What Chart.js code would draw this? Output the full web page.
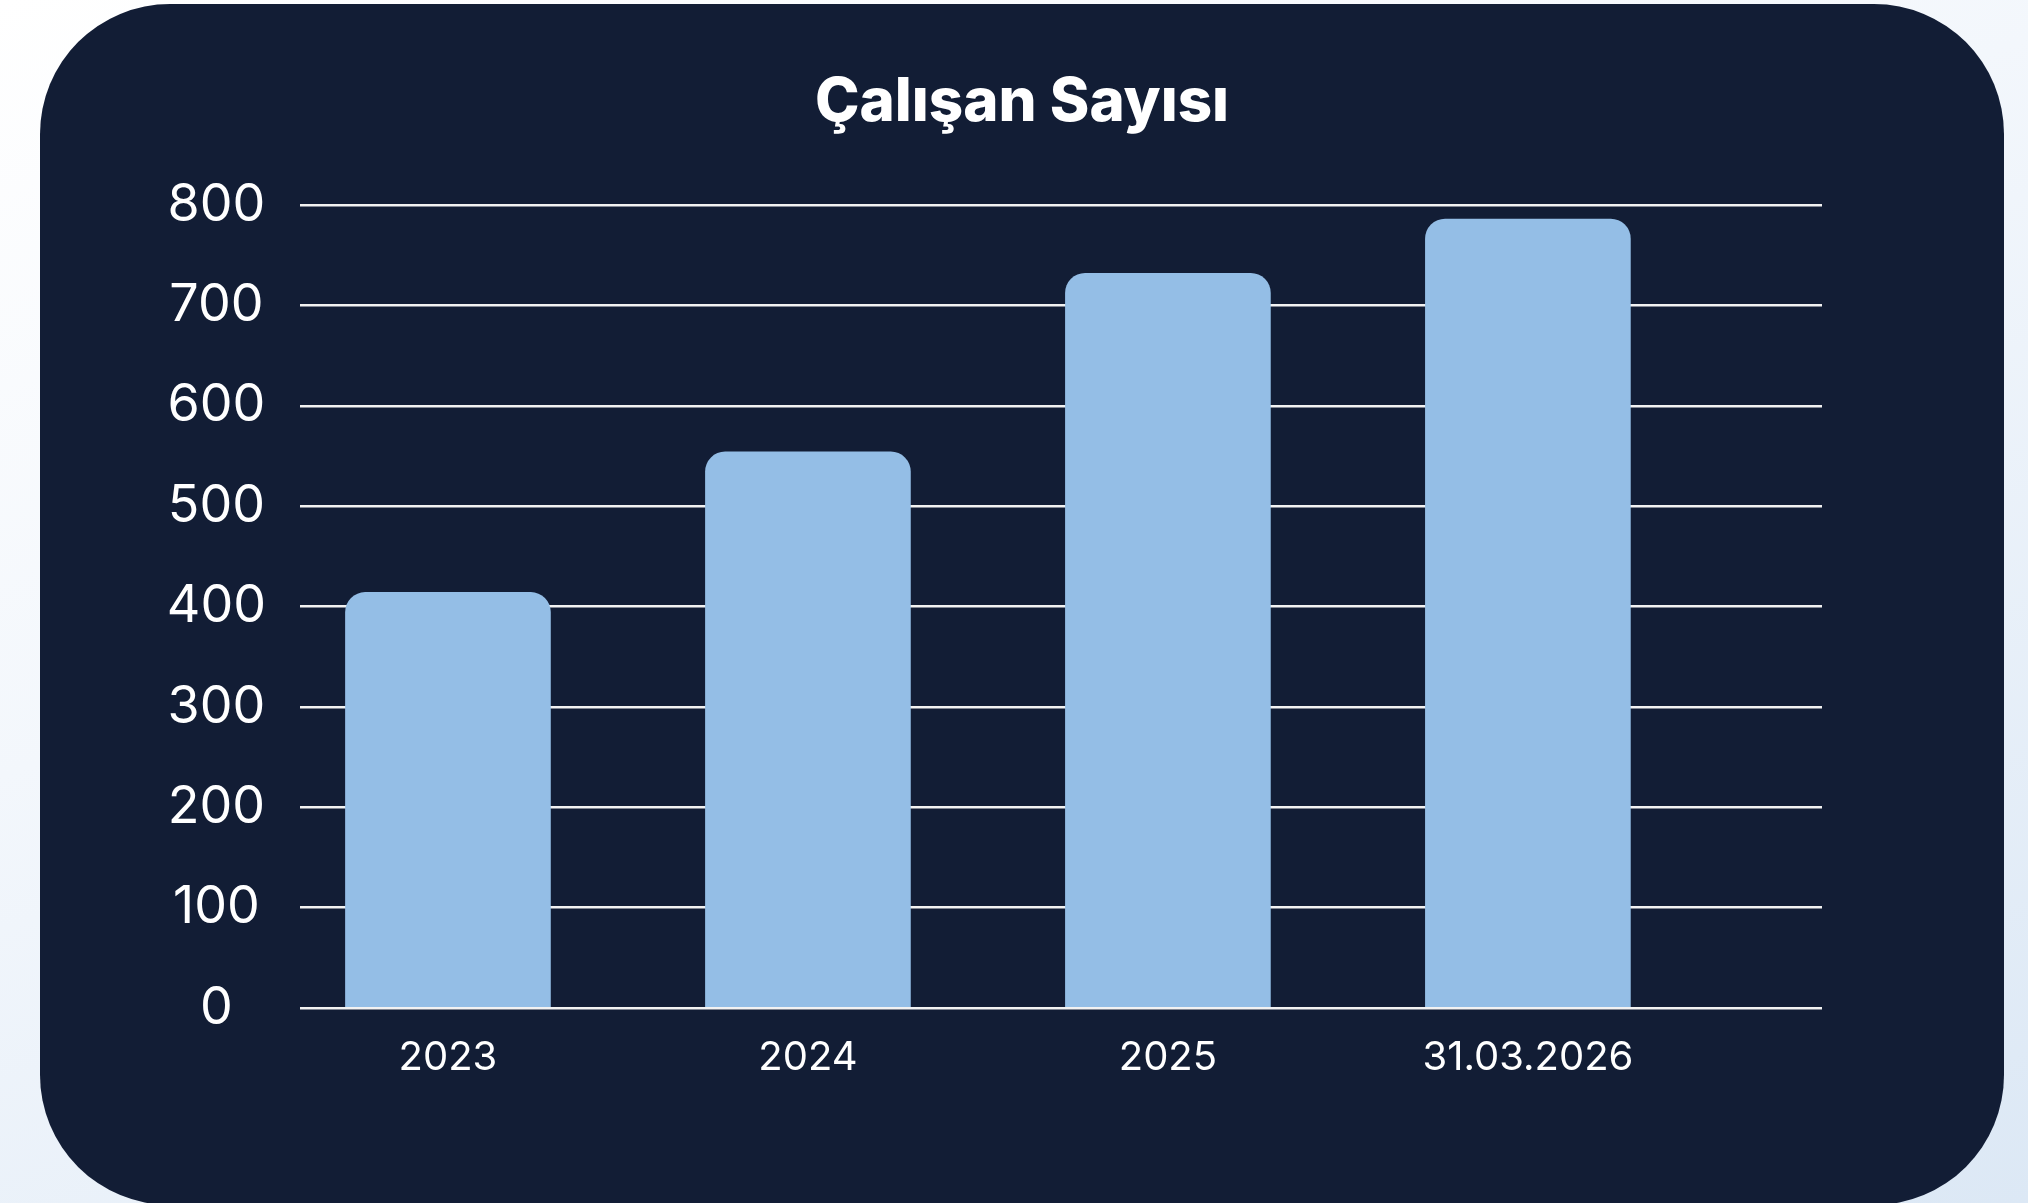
<!DOCTYPE html>
<html>
<head>
<meta charset="utf-8">
<script src="https://cdn.jsdelivr.net/npm/chart.js@4/dist/chart.umd.min.js"></script>
<style>
  html, body { margin: 0; padding: 0; width: 2028px; height: 1203px; overflow: hidden; }
  body { background: linear-gradient(160deg, #ffffff 0%, #f3f7fc 40%, #dce8f5 100%); position: relative; }
  #panel { position: absolute; left: 40px; top: 4px; width: 1964px; height: 1201px; background: #121d35; border-radius: 130px; }
  #c { position: absolute; left: 0; top: 0; }
</style>
</head>
<body>
<div id="panel"></div>
<canvas id="c" width="2028" height="1203"></canvas>
<script>
const title = 'Çalışan Sayısı';
const categories = ['2023', '2024', '2025', '31.03.2026'];
const employees = [414, 554, 732, 786];
const yTicks = [0, 100, 200, 300, 400, 500, 600, 700, 800];

const points = employees.map((v, i) => ({ x: i, y: v }));

new Chart(document.getElementById('c'), {
  type: 'bar',
  data: {
    datasets: [{
      data: points,
      backgroundColor: '#94bee6',
      borderWidth: 0,
      borderRadius: { topLeft: 20, topRight: 20, bottomLeft: 0, bottomRight: 0 },
      barThickness: 205
    }]
  },
  options: {
    responsive: false,
    devicePixelRatio: 1,
    animation: false,
    layout: { padding: { top: 40, left: 100, right: 84, bottom: 95 } },
    plugins: {
      legend: { display: false },
      tooltip: { enabled: false },
      title: {
        display: true,
        text: title,
        color: '#ffffff',
        font: { family: 'Inter', size: 60, weight: 800 },
        padding: { top: 27, bottom: 66 }
      }
    },
    scales: {
      x: {
        type: 'linear',
        offset: false,
        min: -0.411,
        max: 3.817,
        grid: { display: false },
        border: { display: false },
        afterFit: (s) => { s.height = 100; },
        afterBuildTicks: (s) => { s.ticks = categories.map((_, i) => ({ value: i })); },
        ticks: {
          autoSkip: false,
          maxRotation: 0,
          padding: 18,
          color: '#ffffff',
          font: { family: 'Inter', size: 40, weight: 400 },
          callback: (v) => categories[v]
        }
      },
      y: {
        min: 0,
        max: 800,
        afterFit: (s) => { s.width = 200; },
        afterBuildTicks: (s) => { s.ticks = yTicks.map(v => ({ value: v })); },
        grid: { color: '#f2f2f2', lineWidth: 2.5, drawTicks: false },
        border: { display: false },
        ticks: {
          padding: 34,
          crossAlign: 'center',
          color: '#ffffff',
          font: { family: 'Inter', size: 52, weight: 400 }
        }
      },
      yRight: {
        position: 'right',
        min: 0,
        max: 800,
        afterFit: (s) => { s.width = 122; },
        grid: { display: false },
        border: { display: false },
        ticks: { display: false }
      }
    }
  }
});
</script>
</body>
</html>
